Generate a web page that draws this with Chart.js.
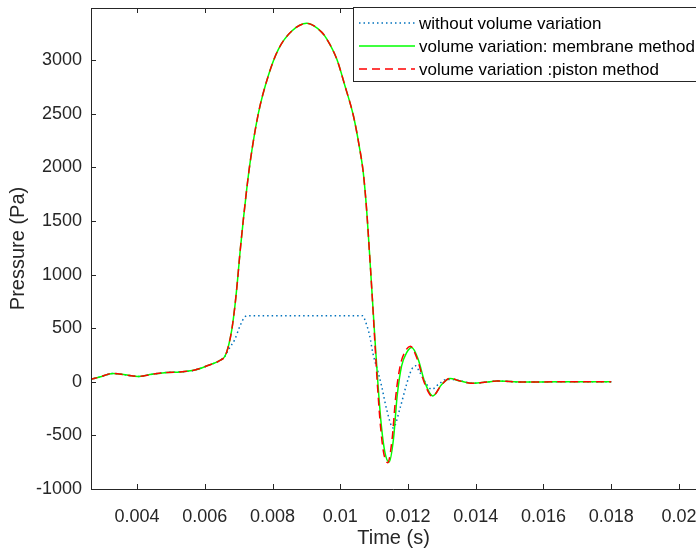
<!DOCTYPE html>
<html>
<head>
<meta charset="utf-8">
<script src="https://cdn.jsdelivr.net/npm/chart.js@4.4.1/dist/chart.umd.min.js"></script>
<style>
  html, body { margin: 0; padding: 0; background: #fff; }
  #wrap { width: 696px; height: 548px; }
</style>
</head>
<body>
<div id="wrap"><canvas id="graph1" width="696" height="548"></canvas></div>
<script>
// valeurs (temps en s, pression en Pa)
const timeMembrane = [0.00260, 0.00290, 0.00329, 0.00365, 0.00403, 0.00444, 0.00489, 0.00527, 0.00571, 0.00607,
  0.00645, 0.00660, 0.00670, 0.00680, 0.00689, 0.00697, 0.00704, 0.00714, 0.00724, 0.00734,
  0.00758, 0.00788, 0.00817, 0.00857, 0.00901, 0.00945, 0.00960, 0.00990, 0.01014, 0.01039,
  0.01056, 0.01068, 0.01078, 0.01086, 0.01093, 0.01103, 0.01112, 0.01122, 0.01132, 0.01144,
  0.01157, 0.01168, 0.01181, 0.01196, 0.01211, 0.01230, 0.01250, 0.01273, 0.01300, 0.01324,
  0.01354, 0.01393, 0.01432, 0.01462, 0.01540, 0.01639, 0.01800];
const pressureMembrane = [20, 45, 78, 65, 50, 70, 88, 92, 110, 150,
  200, 241, 334, 490, 707, 956, 1205, 1516, 1800, 2050,
  2500, 2860, 3100, 3273, 3345, 3263, 3200, 3009, 2760, 2480,
  2200, 1952, 1600, 1220, 870, 370, -50, -430, -660, -750,
  -537, -132, 147, 272, 320, 210, -7, -132, -23, 30,
  7, -14, -2, 7, -2, 0, 0];

const timePiston = [0.00260, 0.00290, 0.00329, 0.00365, 0.00403, 0.00444, 0.00489, 0.00527, 0.00571, 0.00607,
  0.00645, 0.00660, 0.00670, 0.00680, 0.00689, 0.00697, 0.00704, 0.00714, 0.00724, 0.00734,
  0.00758, 0.00788, 0.00817, 0.00857, 0.00901, 0.00945, 0.00960, 0.00990, 0.01014, 0.01039,
  0.01056, 0.01068, 0.01078, 0.01086, 0.01093, 0.01102, 0.01110, 0.01119, 0.01128, 0.01140,
  0.01153, 0.01164, 0.01177, 0.01192, 0.01207, 0.01227, 0.01248, 0.01272, 0.01300, 0.01324,
  0.01354, 0.01393, 0.01432, 0.01462, 0.01540, 0.01639, 0.01800];
const pressurePiston = [20, 45, 78, 65, 50, 70, 88, 92, 110, 150,
  200, 241, 334, 490, 707, 956, 1205, 1516, 1800, 2050,
  2500, 2860, 3100, 3273, 3345, 3263, 3200, 3009, 2760, 2480,
  2200, 1952, 1600, 1220, 870, 380, -40, -420, -660, -755,
  -537, -132, 150, 285, 333, 215, -7, -135, -23, 32,
  7, -14, -2, 7, -2, 0, 0];

const timeRigid = [0.00260, 0.00290, 0.00329, 0.00365, 0.00403, 0.00444, 0.00489, 0.00527, 0.00571, 0.00607,
  0.00645, 0.00660, 0.00670, 0.00689, 0.00704, 0.00720, 0.00730, 0.01066, 0.01072, 0.01087,
  0.01096, 0.01112, 0.01122, 0.01137, 0.01156, 0.01177, 0.01196, 0.01211, 0.01222, 0.01235,
  0.01255, 0.01270, 0.01290, 0.01314, 0.01344, 0.01393, 0.01432, 0.01462, 0.01540, 0.01639,
  0.01800];
const pressureRigid = [20, 45, 78, 65, 50, 70, 88, 92, 110, 150,
  200, 241, 300, 397, 521, 610, 617, 617, 584, 428,
  272, 86, -39, -257, -430, -240, -20, 117, 150, 86,
  -23, -70, -23, 23, 17, -14, -2, 7, -2, 0,
  0];

const xTicks = [0.004, 0.006, 0.008, 0.01, 0.012, 0.014, 0.016, 0.018, 0.02];
const xTickLabels = ["0.004", "0.006", "0.008", "0.01", "0.012", "0.014", "0.016", "0.018", "0.02"];
const yTicks = [-1000, -500, 0, 500, 1000, 1500, 2000, 2500, 3000];
const yTickLabels = ["-1000", "-500", "0", "500", "1000", "1500", "2000", "2500", "3000"];
const seriesNames = ["without volume variation", "volume variation: membrane method", "volume variation :piston method"];

const axisColor = "#262626";
const fontFam = "'Liberation Sans', Arial, sans-serif";

function toPoints(t, p) {
  let pts = [];
  for (let i = 0; i < t.length; i++) pts.push({ x: t[i], y: p[i] });
  return pts;
}

// axes, ticks vers l'interieur et legende facon matlab
const matlabAxes = {
  id: "matlabAxes",
  afterDraw(chart) {
    const ctx = chart.ctx;
    const a = chart.chartArea;
    const xs = chart.scales.x, ys = chart.scales.y;
    ctx.save();
    ctx.strokeStyle = axisColor;
    ctx.lineWidth = 1;
    ctx.beginPath();
    ctx.moveTo(a.left + 0.5, a.top + 0.5);
    ctx.lineTo(a.right, a.top + 0.5);
    ctx.moveTo(a.left + 0.5, a.top);
    ctx.lineTo(a.left + 0.5, a.bottom + 0.5);
    ctx.lineTo(a.right, a.bottom + 0.5);
    xTicks.forEach(v => {
      const px = Math.round(xs.getPixelForValue(v)) + 0.5;
      ctx.moveTo(px, a.bottom); ctx.lineTo(px, a.bottom - 5);
      ctx.moveTo(px, a.top); ctx.lineTo(px, a.top + 5);
    });
    yTicks.forEach(v => {
      const py = Math.round(ys.getPixelForValue(v)) + 0.5;
      ctx.moveTo(a.left, py); ctx.lineTo(a.left + 5, py);
    });
    ctx.stroke();

    // legende (ordre : pointillé, vert, rouge)
    const bx = 353.5, by = 7.5, bw = 360, bh = 74;
    ctx.fillStyle = "#fff";
    ctx.fillRect(bx, by, bw, bh);
    ctx.strokeStyle = axisColor;
    ctx.strokeRect(bx, by, bw, bh);
    const ds = chart.data.datasets;
    const order = [2, 1, 0];
    ctx.font = "17px " + fontFam;
    ctx.textBaseline = "middle";
    order.forEach((di, row) => {
      const d = ds[di];
      const y = 23 + row * 23;
      ctx.strokeStyle = d.borderColor;
      ctx.lineWidth = d.borderWidth;
      ctx.setLineDash(d.borderDash || []);
      ctx.beginPath();
      ctx.moveTo(359, y); ctx.lineTo(415, y);
      ctx.stroke();
      ctx.setLineDash([]);
      ctx.fillStyle = "#000";
      ctx.fillText(d.label, 419, y + 1);
    });
    ctx.restore();
  }
};

let ctx = document.getElementById("graph1");

new Chart(ctx, {
  type: "line",
  data: {
    datasets: [
      {
        label: seriesNames[2],
        data: toPoints(timePiston, pressurePiston),
        borderColor: "#ff0000",
        borderWidth: 1.5,
        borderDash: [8, 5],
        pointRadius: 0,
        cubicInterpolationMode: "monotone",
      },
      {
        label: seriesNames[1],
        data: toPoints(timeMembrane, pressureMembrane),
        borderColor: "#00ff00",
        borderWidth: 1.5,
        pointRadius: 0,
        cubicInterpolationMode: "monotone",
      },
      {
        label: seriesNames[0],
        data: toPoints(timeRigid, pressureRigid),
        borderColor: "#0072bd",
        borderWidth: 1.5,
        borderDash: [1.5, 3],
        pointRadius: 0,
        cubicInterpolationMode: "monotone",
      },
    ],
  },
  options: {
    responsive: false,
    animation: false,
    layout: { padding: { top: 8, right: 0, left: 0, bottom: 0 } },
    plugins: {
      legend: { display: false },
      tooltip: { enabled: false },
    },
    scales: {
      x: {
        type: "linear",
        min: 0.002642,
        max: 0.020502,
        afterFit: s => { s.height = 59; s.paddingLeft = 0; s.paddingRight = 0; },
        afterBuildTicks: s => { s.ticks = xTicks.map(v => ({ value: v })); },
        grid: { display: false, drawTicks: false },
        border: { display: false },
        ticks: {
          padding: 17,
          color: axisColor,
          font: { family: fontFam, size: 18 },
          maxRotation: 0,
          callback: (v) => xTickLabels[xTicks.indexOf(v)],
        },
        title: {
          display: true,
          text: "Time (s)",
          color: axisColor,
          font: { family: fontFam, size: 20, lineHeight: 1.0 },
          padding: { top: 0, bottom: 0 },
        },
      },
      y: {
        type: "linear",
        min: -1000,
        max: 3488,
        afterFit: s => { s.width = 91; s.paddingTop = 0; s.paddingBottom = 0; },
        afterBuildTicks: s => { s.ticks = yTicks.map(v => ({ value: v })); },
        grid: { display: false, drawTicks: false },
        border: { display: false },
        ticks: {
          padding: 9,
          color: axisColor,
          font: { family: fontFam, size: 18 },
          callback: (v) => yTickLabels[yTicks.indexOf(v)],
        },
        title: {
          display: true,
          text: "Pressure (Pa)",
          color: axisColor,
          font: { family: fontFam, size: 20 },
          padding: { top: 6, bottom: 0 },
        },
      },
    },
  },
  plugins: [matlabAxes],
});
</script>
</body>
</html>
